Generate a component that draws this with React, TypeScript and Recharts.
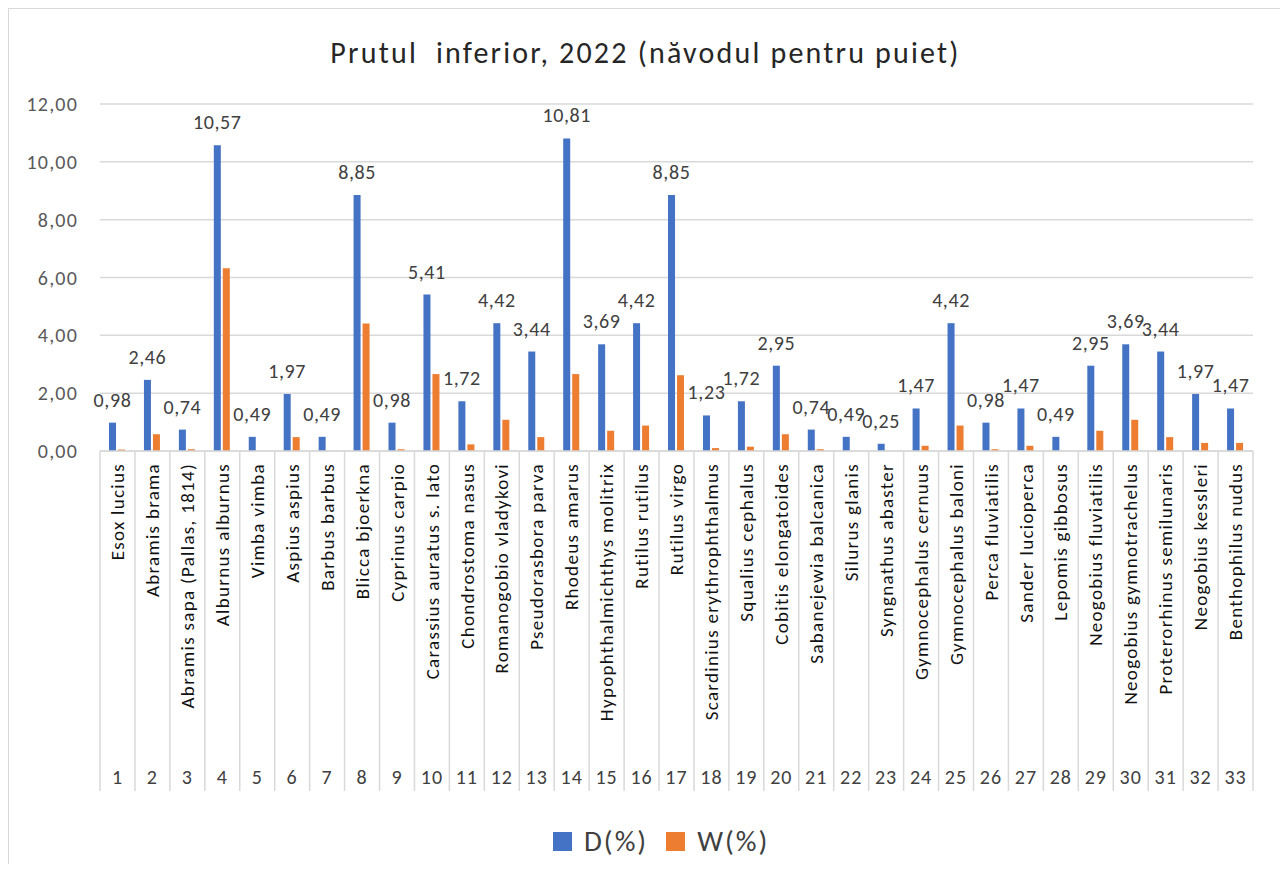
import { Bar, BarChart, CartesianGrid, LabelList, XAxis, YAxis } from "recharts";

const species = [
  "Esox lucius",
  "Abramis brama",
  "Abramis sapa (Pallas, 1814)",
  "Alburnus alburnus",
  "Vimba vimba",
  "Aspius aspius",
  "Barbus barbus",
  "Blicca bjoerkna",
  "Cyprinus carpio",
  "Carassius auratus s. lato",
  "Chondrostoma nasus",
  "Romanogobio vladykovi",
  "Pseudorasbora parva",
  "Rhodeus amarus",
  "Hypophthalmichthys molitrix",
  "Rutilus rutilus",
  "Rutilus virgo",
  "Scardinius erythrophthalmus",
  "Squalius cephalus",
  "Cobitis elongatoides",
  "Sabanejewia balcanica",
  "Silurus glanis",
  "Syngnathus abaster",
  "Gymnocephalus cernuus",
  "Gymnocephalus baloni",
  "Perca fluviatilis",
  "Sander lucioperca",
  "Lepomis gibbosus",
  "Neogobius fluviatilis",
  "Neogobius gymnotrachelus",
  "Proterorhinus semilunaris",
  "Neogobius kessleri",
  "Benthophilus nudus",
];

const numbers = [
  "1", "2", "3", "4", "5", "6", "7", "8", "9", "10", "11",
  "12", "13", "14", "15", "16", "17", "18", "19", "20", "21", "22",
  "23", "24", "25", "26", "27", "28", "29", "30", "31", "32", "33",
];

// D(%) – abundance
const dValues = [
  0.98, 2.46, 0.74, 10.57, 0.49, 1.97, 0.49, 8.85, 0.98, 5.41, 1.72,
  4.42, 3.44, 10.81, 3.69, 4.42, 8.85, 1.23, 1.72, 2.95, 0.74, 0.49,
  0.25, 1.47, 4.42, 0.98, 1.47, 0.49, 2.95, 3.69, 3.44, 1.97, 1.47,
];

// W(%) – biomass (no labels in the original)
const wValues = [
  0.05, 0.58, 0.06, 6.32, 0, 0.48, 0, 4.41, 0.06, 2.66, 0.23,
  1.08, 0.48, 2.66, 0.7, 0.88, 2.62, 0.1, 0.15, 0.58, 0.06, 0,
  0, 0.18, 0.88, 0.06, 0.18, 0, 0.7, 1.08, 0.48, 0.28, 0.28,
];

const yTicks = [0, 2, 4, 6, 8, 10, 12];

const data = species.map((name, i) => ({
  name,
  nr: numbers[i],
  d: dValues[i],
  w: wValues[i],
}));

const CHART_W = 1273;
const CHART_H = 855;
const MARGIN = { top: 95, right: 29, bottom: 73, left: 0 };
const Y_AXIS_W = 91;
const X_AXIS_H = 340;
const BAND = (CHART_W - MARGIN.right - MARGIN.left - Y_AXIS_W) / species.length;

const BLUE = "#4472C4";
const ORANGE = "#ED7D31";
const GRID = "#D9D9D9";
const FONT = "Calibri, Carlito, 'Noto Sans', sans-serif";

const fmt = (v: number) => v.toFixed(2).replace(".", ",");

const SpeciesTick = (props: any) => {
  const { x, y, payload } = props;
  const i = payload.index;
  return (
    <g>
      <line x1={x - BAND / 2} x2={x - BAND / 2} y1={y} y2={y + X_AXIS_H} stroke={GRID} strokeWidth={1.5} />
      {i === species.length - 1 && (
        <line x1={x + BAND / 2} x2={x + BAND / 2} y1={y} y2={y + X_AXIS_H} stroke={GRID} strokeWidth={1.5} />
      )}
      <text
        transform={`translate(${x},${y + 12}) rotate(-90)`}
        textAnchor="end"
        dy="0.35em"
        fontSize={19}
        fill="#111"
        fontFamily={FONT}
        style={{ letterSpacing: 1.3 }}
      >
        {species[i]}
      </text>
      <text
        x={x}
        y={y + 333}
        textAnchor="middle"
        fontSize={20}
        fill="#404040"
        fontFamily={FONT}
        style={{ letterSpacing: 1 }}
      >
        {numbers[i]}
      </text>
    </g>
  );
};

const App = () => {
  return (
    <div
      style={{
        position: "relative",
        width: CHART_W,
        height: CHART_H,
        border: `1px solid ${GRID}`,
        borderBottom: "none",
        background: "#fff",
        fontFamily: FONT,
      }}
    >
      <div
        style={{
          position: "absolute",
          top: 27,
          left: 0,
          width: "100%",
          textAlign: "center",
          fontSize: 30,
          lineHeight: "34px",
          letterSpacing: 2.2,
          color: "#262626",
        }}
      >
        Prutul&nbsp; inferior, 2022 (năvodul pentru puiet)
      </div>
      <BarChart width={CHART_W} height={CHART_H} data={data} margin={MARGIN} barSize={7} barGap={2}>
        <CartesianGrid vertical={false} stroke={GRID} strokeWidth={1.5} />
        <XAxis
          dataKey="name"
          interval={0}
          height={X_AXIS_H}
          tickLine={false}
          tickSize={0}
          tickMargin={0}
          axisLine={{ stroke: GRID, strokeWidth: 1.5 }}
          tick={<SpeciesTick />}
        />
        <YAxis
          width={Y_AXIS_W}
          domain={[0, 12]}
          ticks={yTicks}
          tickFormatter={fmt}
          axisLine={false}
          tickLine={false}
          tickSize={0}
          tickMargin={22}
          tick={{ fontSize: 20, fill: "#595959", fontFamily: FONT, style: { letterSpacing: 1.2 } }}
        />
        <Bar dataKey="d" name="D(%)" fill={BLUE} isAnimationActive={false}>
          <LabelList
            dataKey="d"
            position="top"
            offset={16}
            formatter={(v: any) => fmt(Number(v))}
            style={{ fontSize: 20, fill: "#404040", fontFamily: FONT, letterSpacing: 0.6 }}
          />
        </Bar>
        <Bar dataKey="w" name="W(%)" fill={ORANGE} isAnimationActive={false} />
      </BarChart>
      <div
        style={{
          position: "absolute",
          top: 815,
          left: 544,
          display: "flex",
          alignItems: "center",
          fontSize: 29,
          lineHeight: "34px",
          letterSpacing: 2,
          color: "#404040",
        }}
      >
        {[
          { label: "D(%)", color: BLUE },
          { label: "W(%)", color: ORANGE },
        ].map((item) => (
          <div key={item.label} style={{ display: "flex", alignItems: "center", marginRight: 18 }}>
            <span style={{ display: "inline-block", width: 19, height: 19, background: item.color, marginRight: 12 }} />
            <span>{item.label}</span>
          </div>
        ))}
      </div>
    </div>
  );
};

export default App;
